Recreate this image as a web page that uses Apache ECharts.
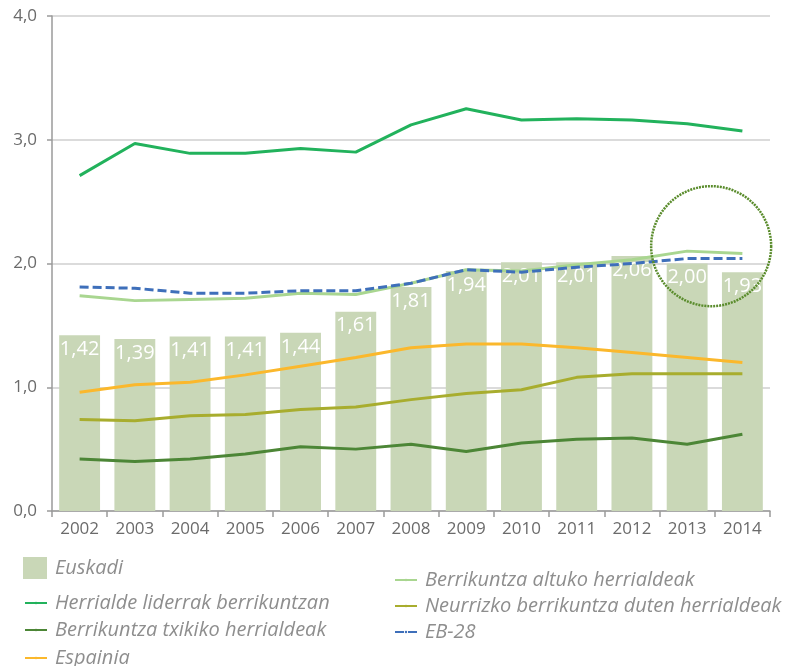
<!DOCTYPE html>
<html>
<head>
<meta charset="utf-8">
<script src="https://cdn.jsdelivr.net/npm/echarts@6/dist/echarts.min.js"></script>
<style>
  html, body { margin: 0; padding: 0; background: #fff; }
  #chart { width: 794px; height: 666px; }
</style>
</head>
<body>
<div id="chart"></div>
<script>
// years on the x axis
const years = ['2002', '2003', '2004', '2005', '2006', '2007', '2008', '2009', '2010', '2011', '2012', '2013', '2014']

// bars
const euskadi = [1.42, 1.39, 1.41, 1.41, 1.44, 1.61, 1.81, 1.94, 2.01, 2.01, 2.06, 2.00, 1.93]

// lines
const liderrak = [2.71, 2.97, 2.89, 2.89, 2.93, 2.90, 3.12, 3.25, 3.16, 3.17, 3.16, 3.13, 3.07]
const txikiko = [0.42, 0.40, 0.42, 0.46, 0.52, 0.50, 0.54, 0.48, 0.55, 0.58, 0.59, 0.54, 0.62]
const espainia = [0.96, 1.02, 1.04, 1.10, 1.17, 1.24, 1.32, 1.35, 1.35, 1.32, 1.28, 1.24, 1.20]
const altuko = [1.74, 1.70, 1.71, 1.72, 1.76, 1.75, 1.84, 1.95, 1.94, 1.99, 2.03, 2.10, 2.08]
const neurrizko = [0.74, 0.73, 0.77, 0.78, 0.82, 0.84, 0.90, 0.95, 0.98, 1.08, 1.11, 1.11, 1.11]
const eb28 = [1.81, 1.80, 1.76, 1.76, 1.78, 1.78, 1.84, 1.95, 1.93, 1.97, 2.00, 2.04, 2.04]

const FONT = 'Open Sans'
const comma = (v, d) => v.toFixed(d).replace('.', ',')

const chart = echarts.init(document.getElementById('chart'))

function lineSeries(name, data, color, extra) {
  return Object.assign({
    name,
    type: 'line',
    data,
    symbol: 'none',
    z: 3,
    lineStyle: { color, width: 3 },
    itemStyle: { color }
  }, extra || {})
}

// one legend per entry, laid out in two columns like the original
function legendItem(name, left, centerY, isBox) {
  return {
    data: [isBox ? { name, icon: 'rect' } : name],
    left,
    top: centerY - 12,
    padding: 0,
    itemWidth: isBox ? 24 : 22,
    itemHeight: isBox ? 22 : 3,
    textStyle: {
      color: '#8e8e8e', fontStyle: 'italic', fontSize: 20, fontFamily: FONT,
      lineHeight: 24, padding: [0, 0, 0, 3]
    }
  }
}

const option = {
  animation: false,
  grid: { left: 52, right: 24, top: 16, bottom: 155 },
  legend: [
    legendItem('Euskadi', 23, 568, true),
    legendItem('Herrialde liderrak berrikuntzan', 24, 603),
    legendItem('Berrikuntza txikiko herrialdeak', 24, 630),
    legendItem('Espainia', 24, 658),
    legendItem('Berrikuntza altuko herrialdeak', 394, 580),
    legendItem('Neurrizko berrikuntza duten herrialdeak', 394, 606),
    legendItem('EB-28', 394, 632)
  ],
  xAxis: {
    type: 'category',
    data: years,
    axisLine: { lineStyle: { color: '#9a9a9a', width: 1.5 } },
    axisTick: { show: true, length: 6, lineStyle: { color: '#9a9a9a', width: 1.5 } },
    axisLabel: { color: '#6b6b6b', fontSize: 17, fontFamily: FONT, margin: 10 }
  },
  yAxis: {
    type: 'value',
    min: 0,
    max: 4,
    interval: 1,
    axisLine: { show: true, lineStyle: { color: '#9a9a9a', width: 1.5 } },
    axisTick: { show: true, length: 5, lineStyle: { color: '#9a9a9a', width: 1.5 } },
    axisLabel: {
      color: '#6b6b6b', fontSize: 17, fontFamily: FONT, margin: 15,
      formatter: v => comma(v, 1)
    },
    splitLine: { lineStyle: { color: '#cfcfcf', width: 1.5 } }
  },
  series: [
    {
      name: 'Euskadi',
      type: 'bar',
      data: euskadi,
      barWidth: '74%',
      z: 2,
      itemStyle: { color: '#c9d7b7' },
      label: {
        show: true,
        position: 'insideTop',
        distance: 4,
        color: '#fff',
        fontSize: 20,
        fontFamily: FONT,
        formatter: p => comma(p.value, 2)
      }
    },
    lineSeries('Herrialde liderrak berrikuntzan', liderrak, '#22b25c'),
    lineSeries('Berrikuntza txikiko herrialdeak', txikiko, '#4c8636'),
    lineSeries('Espainia', espainia, '#fbb82c'),
    lineSeries('Berrikuntza altuko herrialdeak', altuko, '#a9d690', {
      markPoint: {
        silent: true,
        symbol: 'circle',
        symbolSize: 120,
        symbolOffset: [24, 0],
        label: { show: false },
        itemStyle: {
          color: 'rgba(0,0,0,0)',
          borderColor: '#5a8c2c',
          borderWidth: 2.5,
          borderType: [2, 1]
        },
        data: [{ coord: ['2013', 2.14] }]
      }
    }),
    lineSeries('Neurrizko berrikuntza duten herrialdeak', neurrizko, '#a8ad2e'),
    lineSeries('EB-28', eb28, '#3e6fba', { lineStyle: { color: '#3e6fba', width: 3, type: [9, 4] } })
  ]
}

chart.setOption(option)
</script>
</body>
</html>
